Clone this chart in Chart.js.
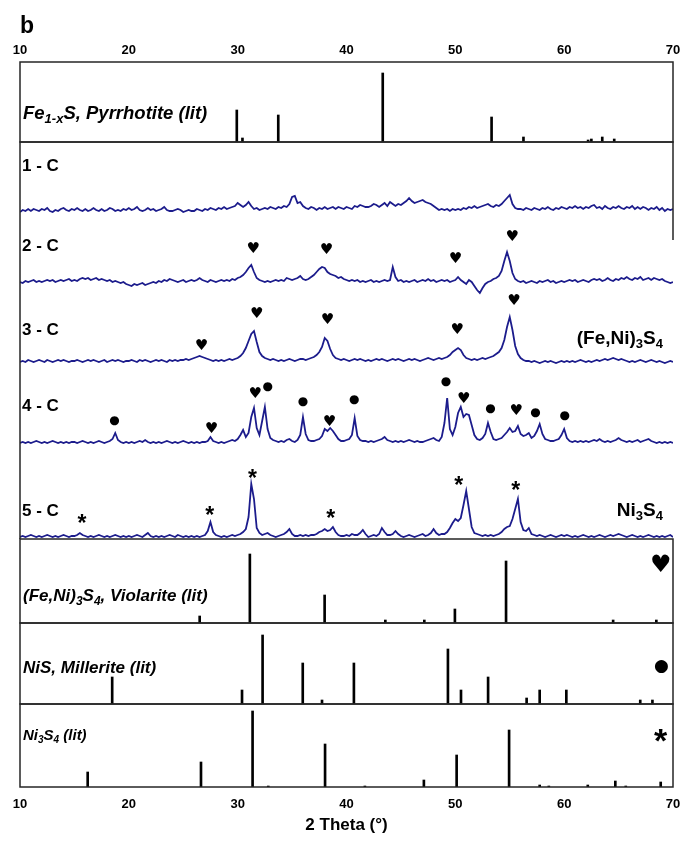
<!DOCTYPE html>
<html>
<head>
<meta charset="utf-8">
<title>XRD patterns (b)</title>
<script src="https://cdn.jsdelivr.net/npm/chart.js"></script>
<style>
  body { margin: 0; background: #ffffff; }
  #xrdChart { display: block; }
</style>
</head>
<body>
<canvas id="xrdChart" width="684" height="843"></canvas>
<script>
  // ---- values ----
  // measured patterns are sampled every 0.25 deg, 10..70 deg 2-theta
  const twoTheta = Array.from({ length: 241 }, (_, i) => 10 + i * 0.25);
  const xTicks = [10, 20, 30, 40, 50, 60, 70];

  const sampleLabels = ['1 - C', '2 - C', '3 - C', '4 - C', '5 - C'];
  // vertical stacking offsets of the five patterns (a.u.)
  const sampleOffsets = [327, 256, 177, 96, 2];

  const sample1C = [
    0,2,1,3, 1,3,2,1, 3,2,4,1, 0,2,1,3, 4,2,1,3, 2,4,2,1, 3,1,2,4, 2,1,3,1, 2,4,3,1, 2,1,3,2,
    4,2,3,5, 2,1,2,4, 2,3,1,2, 3,5,2,1, 1,2,3,2, 0,1,2,1, 1,3,2,1, 3,2,4,3, 2,4,3,5, 3,4,5,6,
    9,7,5,7, 10,6,3,4, 2,3,4,3, 5,4,3,5, 4,6,5,8, 15,16,9,10, 6,4,3,5, 4,2,4,3, 5,3,4,5, 3,5,4,3,
    5,4,3,6, 5,7,6,5, 5,6,8,7, 5,7,9,6, 10,8,6,8, 7,9,11,14, 11,9,10,11, 12,10,9,8, 6,4,2,3, 2,3,1,3,
    2,3,2,4, 3,5,4,6, 4,5,6,7, 8,6,5,7, 6,8,11,14, 17,8,4,3, 3,2,4,3, 2,4,3,2, 4,3,5,3, 2,4,3,5,
    4,3,5,4, 6,4,5,3, 5,4,6,7, 4,5,3,6, 4,3,5,4, 6,4,3,5, 4,6,3,5, 3,5,4,2, 4,3,5,2, 4,1,3,2,
    3
  ];
  const sample2C = [
    1,0,2,1, 2,3,1,2, 1,2,3,2, 3,1,2,3, 2,3,4,2, 3,2,4,5, 4,5,3,4, 5,3,4,3, 2,3,1,2, 1,0,1,-1,
    -2,-3,-1,-2, -1,0,-2,-1, 0,1,0,2, 1,3,2,4, 3,2,1,2, 3,1,2,3, 2,3,5,3, 2,1,3,2, 1,2,3,2, 3,2,4,3,
    5,6,8,11, 15,18,11,5, 3,2,1,2, 1,2,3,2, 3,2,5,4, 3,4,5,7, 4,3,4,6, 8,11,14,16, 15,11,9,8, 7,5,6,4,
    3,2,3,2, 3,1,2,1, 2,3,1,2, 1,2,3,2, 3,16,6,2, 3,1,2,1, 2,3,1,2, 3,2,4,2, 3,1,2,3, 2,3,1,2,
    3,6,3,1, -1,3,1,-3, -7,-10,-5,-1, 1,2,4,5, 7,12,22,31, 22,10,4,2, 1,2,0,1, 2,1,0,2, 1,2,3,1, 2,0,1,2,
    1,2,3,2, 3,1,2,3, 2,1,3,4, 3,4,2,3, 5,3,2,4, 3,5,4,6, 4,3,5,4, 6,3,4,5, 3,5,4,3, 4,2,1,0,
    1
  ];
  const sample3C = [
    0,1,0,2, 1,0,1,2, 1,0,2,1, 0,1,2,1, 2,1,0,1, 1,2,1,0, 1,2,1,2, 1,0,1,2, 0,1,2,1, 2,1,0,1,
    1,2,1,0, 2,1,2,1, 0,1,2,1, 2,1,0,2, 1,2,1,2, 2,3,2,3, 4,5,6,5, 4,3,2,1, 2,1,2,1, 2,3,2,3,
    4,6,9,14, 21,28,31,20, 10,6,4,3, 2,3,2,1, 2,1,2,3, 2,1,2,3, 3,2,3,4, 5,7,10,15, 24,21,13,7, 4,3,2,3,
    2,1,2,3, 2,3,2,1, 2,1,2,3, 2,3,2,1, 2,3,2,3, 2,1,2,3, 2,3,2,1, 2,3,4,3, 2,3,4,3, 4,5,7,10,
    12,14,12,7, 4,3,2,3, 2,3,4,3, 4,5,6,8, 10,14,22,35, 45,32,16,8, 4,2,1,1, 0,1,0,-1, 0,1,0,1, 0,-1,0,1,
    0,1,0,1, 0,1,2,1, 0,1,0,1, 2,1,2,3, 2,3,4,3, 2,3,2,1, 0,1,0,1, 2,1,0,1, 2,1,0,1, 0,-1,0,1,
    0
  ];
  const sample4C = [
    0,1,0,1, 0,1,2,1, 0,1,0,1, 2,1,0,1, 0,1,0,1, 1,0,1,2, 1,0,1,0, 1,2,1,0, 1,2,4,10, 3,1,0,1,
    0,1,0,1, 2,1,3,1, 0,1,0,1, 0,1,2,1, 0,1,0,1, 2,1,0,1, 0,1,0,1, 1,2,6,2, 1,0,1,0, 1,2,3,2,
    4,8,13,6, 10,26,35,15, 8,22,36,14, 5,3,2,1, 2,1,3,4, 2,1,3,8, 26,9,3,2, 2,3,4,7, 14,12,15,12, 8,4,2,2,
    3,4,8,25, 7,3,2,2, 1,2,1,2, 3,4,6,3, 2,1,2,1, 2,1,2,3, 2,1,2,1, 1,2,3,4, 5,3,2,6, 20,45,14,8,
    16,30,36,26, 29,28,18,8, 4,3,5,9, 20,11,4,3, 4,5,8,11, 15,11,12,17, 9,7,8,10, 5,7,12,19, 9,4,3,2, 2,3,4,8,
    14,5,2,1, 2,1,2,1, 2,1,2,3, 2,4,2,1, 2,1,2,3, 5,3,2,1, 2,1,2,3, 1,2,3,4, 2,1,0,1, 0,1,0,1,
    0
  ];
  const sample5C = [
    0,1,0,1, 2,1,0,1, 0,1,2,1, 0,1,0,1, 2,1,0,1, 1,2,4,2, 1,0,1,0, 1,2,1,0, 1,0,1,2, 1,0,1,0,
    1,0,1,2, 1,0,2,4, 1,0,1,0, 1,0,1,2, 1,0,2,1, 0,1,0,1, 0,1,0,1, 2,6,15,5, 2,1,0,1, 0,1,2,1,
    2,3,5,8, 20,53,38,9, 4,2,3,4, 2,1,0,1, 2,3,5,8, 3,1,1,2, 1,2,1,2, 2,3,5,6, 8,6,7,10, 5,2,1,1,
    2,1,3,2, 2,4,7,3, 0,1,2,1, 3,9,5,2, 2,3,6,3, 1,0,1,2, 1,0,1,2, 3,1,2,4, 8,4,2,3, 3,5,9,14,
    18,16,19,32, 46,28,10,4, 3,2,1,2, 1,2,1,2, 3,5,8,10, 11,18,28,38, 15,7,6,9, 3,2,1,2, 1,0,1,2, 1,0,1,2,
    1,2,1,0, 1,0,1,2, 1,0,1,0, 1,2,1,0, 1,2,1,2, 3,2,1,0, 1,2,1,0, 1,0,1,2, 1,0,1,0, 1,0,1,2,
    0
  ];

  // literature stick patterns: position (deg 2-theta) and relative height (a.u.)
  const pyrrhotitePos = [29.92, 30.44, 33.73, 43.33, 53.33, 56.26, 62.2, 62.5, 63.5, 64.6];
  const pyrrhotiteInt = [32, 4, 27, 69, 25, 5, 2, 3, 5, 3];
  const violaritePos = [26.51, 31.12, 37.99, 43.57, 47.15, 49.96, 54.66, 64.50, 68.47];
  const violariteInt = [7, 69, 28, 3, 3, 14, 62, 3, 3];
  const milleritePos = [18.47, 30.40, 32.29, 35.98, 37.75, 40.68, 49.32, 50.52, 53.01, 56.55, 57.75, 60.20, 66.99, 68.11];
  const milleriteInt = [27, 14, 69, 41, 4, 41, 55, 14, 27, 6, 14, 14, 4, 4];
  const ni3s4Pos = [16.22, 26.63, 31.37, 32.81, 38.03, 41.69, 47.11, 50.12, 54.94, 57.75, 58.59, 62.17, 64.70, 65.66, 68.87];
  const ni3s4Int = [15, 25, 76, 1, 43, 1, 7, 32, 57, 2, 1, 2, 6, 1, 5];

  // phase markers above the peaks: [2-theta, height in the pattern panel]
  const heartMarks = [[31.45, 292], [38.19, 291], [50.04, 282], [55.26, 304],
                      [26.71, 195], [31.77, 227], [38.27, 221], [50.20, 211], [55.42, 240],
                      [27.63, 112], [31.65, 147], [38.47, 119], [50.80, 142], [55.62, 130]];
  const dotMarks = [[18.67, 118], [32.73, 152], [35.98, 137], [40.68, 139], [49.12, 157],
                    [53.21, 130], [57.35, 126], [60.04, 123]];
  const starMarks = [[15.70, 21], [27.43, 29], [31.37, 66], [38.55, 26], [50.32, 59], [55.54, 54]];

  // ---- drawing ----
  const FONT = '"Liberation Sans", Arial, Helvetica, sans-serif';
  const SYM = '"DejaVu Sans", sans-serif';
  const traceColor = '#1c1c8c';

  const traceSets = [sample1C, sample2C, sample3C, sample4C, sample5C].map((vals, k) => ({
    type: 'line',
    label: sampleLabels[k],
    xAxisID: 'x',
    yAxisID: 'yTr',
    data: twoTheta.map((t, i) => ({ x: t, y: vals[i] + sampleOffsets[k] })),
    borderColor: traceColor,
    borderWidth: 1.8,
    pointRadius: 0,
    tension: 0,
    fill: false
  }));

  function sticks(label, pos, inten, yAxisID) {
    return {
      type: 'bar',
      label,
      xAxisID: 'x',
      yAxisID,
      data: pos.map((p, i) => ({ x: p, y: inten[i] })),
      backgroundColor: '#000000',
      borderWidth: 0,
      barThickness: 2,
      grouped: false
    };
  }

  function panelAxis(max, weight) {
    return {
      type: 'linear', position: 'left', stack: 'xrd', stackWeight: max, weight,
      min: 0, max,
      grid: { display: false, drawTicks: false },
      border: { display: false },
      ticks: { display: false },
      afterFit: s => { s.width = 0; }
    };
  }

  function xAxis(position, pad, height, withTitle) {
    return {
      type: 'linear', position, min: 10, max: 70, offset: false,
      grid: { display: false, drawTicks: false },
      border: { display: false },
      ticks: { padding: pad, color: '#000', autoSkip: false, maxRotation: 0,
               font: { family: FONT, size: 13, weight: 'bold' } },
      afterBuildTicks: s => { s.ticks = xTicks.map(v => ({ value: v })); },
      title: { display: withTitle, text: '2 Theta (°)', color: '#000',
               font: { family: FONT, size: 17, weight: 'bold' }, padding: { top: 0, bottom: 7 } },
      afterFit: s => {
        s.height = height;
        // the end labels may overhang the frame, as in the figure
        s.paddingLeft = 0;
        s.paddingRight = 0;
      }
    };
  }

  function glyph(ctx, ch, x, y, font) {
    ctx.font = font;
    const m = ctx.measureText(ch);
    ctx.fillText(ch, x - (m.actualBoundingBoxRight - m.actualBoundingBoxLeft) / 2,
                 y + (m.actualBoundingBoxAscent - m.actualBoundingBoxDescent) / 2);
  }

  function richWidth(ctx, parts, size, style) {
    let w = 0;
    parts.forEach(([t, sub]) => {
      ctx.font = `${style} ${sub ? Math.round(size * 0.68) : size}px ${FONT}`;
      w += ctx.measureText(t).width;
    });
    return w;
  }

  function rich(ctx, parts, x, y, size, style) {
    let cx = x;
    parts.forEach(([t, sub]) => {
      ctx.font = `${style} ${sub ? Math.round(size * 0.68) : size}px ${FONT}`;
      ctx.fillText(t, cx, sub ? y + size * 0.22 : y);
      cx += ctx.measureText(t).width;
    });
  }

  const xrdDecor = {
    id: 'xrdDecor',
    afterDatasetsDraw(chart) {
      const ctx = chart.ctx;
      const { left, right } = chart.chartArea;
      ctx.save();
      ctx.strokeStyle = '#262626';
      ctx.lineWidth = 1.5;
      ['yPyr', 'yVio', 'yMil', 'yNi'].forEach(id => {
        const s = chart.scales[id];
        ctx.strokeRect(left, s.top, right - left, s.bottom - s.top);
      });
      // pattern panel: right edge only shows next to the first traces
      const t = chart.scales.yTr;
      ctx.beginPath();
      ctx.moveTo(right, t.top + 98);
      ctx.lineTo(right, t.top);
      ctx.lineTo(left, t.top);
      ctx.lineTo(left, t.bottom);
      ctx.stroke();
      ctx.restore();
    },
    afterDraw(chart) {
      const ctx = chart.ctx;
      const x = chart.scales.x;
      const yT = chart.scales.yTr;
      ctx.save();
      ctx.fillStyle = '#000';
      ctx.textAlign = 'left';
      ctx.textBaseline = 'alphabetic';

      ctx.font = `bold 23px ${FONT}`;
      ctx.fillText('b', 20, 33);

      // sample names
      const nameY = [171, 251, 335, 411, 516];
      ctx.font = `bold 17px ${FONT}`;
      sampleLabels.forEach((n, i) => ctx.fillText(n, 22, nameY[i]));

      // reference panel captions
      rich(ctx, [['Fe'], ['1-x', true], ['S, Pyrrhotite (lit)']], 23, 119, 18.5, 'italic bold');
      rich(ctx, [['(Fe,Ni)'], ['3', true], ['S'], ['4', true], [', Violarite (lit)']], 23, 601, 17, 'italic bold');
      rich(ctx, [['NiS, Millerite (lit)']], 23, 673, 17, 'italic bold');
      rich(ctx, [['Ni'], ['3', true], ['S'], ['4', true], [' (lit)']], 23, 740, 15, 'italic bold');

      // phase names beside patterns 3 and 5
      const fe = [['(Fe,Ni)'], ['3', true], ['S'], ['4', true]];
      rich(ctx, fe, 663 - richWidth(ctx, fe, 19, 'bold'), 344, 19, 'bold');
      const ni = [['Ni'], ['3', true], ['S'], ['4', true]];
      rich(ctx, ni, 663 - richWidth(ctx, ni, 19, 'bold'), 516, 19, 'bold');

      // legend symbols in the reference panels
      glyph(ctx, '\u2665', 661, 563, `24px ${SYM}`);
      glyph(ctx, '\u25CF', 661, 667, `17px ${SYM}`);
      glyph(ctx, '*', 661, 735, `bold 34px ${FONT}`);

      // phase markers on the patterns
      heartMarks.forEach(([t, v]) => glyph(ctx, '\u2665', x.getPixelForValue(t), yT.getPixelForValue(v), `15px ${SYM}`));
      dotMarks.forEach(([t, v]) => glyph(ctx, '\u25CF', x.getPixelForValue(t), yT.getPixelForValue(v), `12px ${SYM}`));
      starMarks.forEach(([t, v]) => glyph(ctx, '*', x.getPixelForValue(t), yT.getPixelForValue(v), `bold 23px ${FONT}`));
      ctx.restore();
    }
  };

  new Chart(document.getElementById('xrdChart'), {
    type: 'line',
    data: {
      datasets: [
        ...traceSets,
        sticks('Pyrrhotite', pyrrhotitePos, pyrrhotiteInt, 'yPyr'),
        sticks('Violarite', violaritePos, violariteInt, 'yVio'),
        sticks('Millerite', milleritePos, milleriteInt, 'yMil'),
        sticks('Ni3S4', ni3s4Pos, ni3s4Int, 'yNi')
      ]
    },
    options: {
      responsive: false,
      animation: false,
      devicePixelRatio: 1,
      layout: { padding: { left: 20, right: 11, top: 0, bottom: 0 } },
      plugins: { legend: { display: false }, tooltip: { enabled: false } },
      scales: {
        x: xAxis('bottom', 10, 56, true),
        x2: xAxis('top', 4, 62, false),
        yNi: panelAxis(83, 1),
        yMil: panelAxis(81, 2),
        yVio: panelAxis(84, 3),
        yTr: panelAxis(397, 4),
        yPyr: panelAxis(80, 5)
      }
    },
    plugins: [xrdDecor]
  });
</script>
</body>
</html>
